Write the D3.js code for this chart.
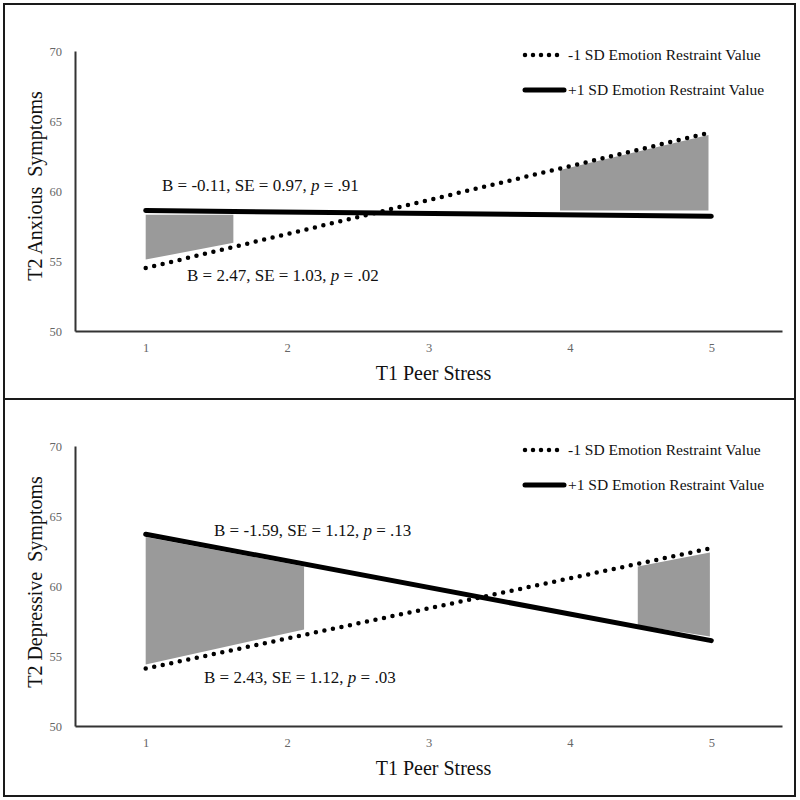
<!DOCTYPE html>
<html><head><meta charset="utf-8">
<script src="https://cdn.jsdelivr.net/npm/d3@7/dist/d3.min.js"></script>
<style>
html,body{margin:0;padding:0;background:#fff;}
svg text{font-family:"Liberation Serif","Times New Roman",serif !important;}
</style></head>
<body><svg id="chart" width="800" height="800"></svg>
<script>
// ---- data ----
const xTicks = [1, 2, 3, 4, 5];
const yTicks = [50, 55, 60, 65, 70];
const xEnds = [1, 5];
const xLabel = "T1 Peer Stress";
const yLabels = ["T2 Anxious  Symptoms", "T2 Depressive  Symptoms"];
const legendLabels = ["-1 SD Emotion Restraint Value", "+1 SD Emotion Restraint Value"];

// -1 SD (dotted) and +1 SD (solid) predicted values at x = 1 and x = 5
const anxLow = [54.5, 64.2];
const anxHigh = [58.6, 58.2];
const depLow = [54.1, 62.7];
const depHigh = [63.7, 56.1];

// shaded regions: [x, upper, lower]
const anxShadeLeft = [[1, 58.3, 55.1], [1.62, 58.3, 56.3]];
const anxShadeRight = [[3.93, 61.5, 58.6], [4.18, 62.1, 58.6], [4.98, 64.0, 58.6]];
const depShadeLeft = [[1, 63.5, 54.4], [2.12, 61.4, 56.9]];
const depShadeRight = [[4.48, 61.4, 57.2], [4.99, 62.4, 56.4]];

// annotations: [B, SE, p]
const anxStatsHigh = ["-0.11", "0.97", ".91"];
const anxStatsLow = ["2.47", "1.03", ".02"];
const depStatsHigh = ["-1.59", "1.12", ".13"];
const depStatsLow = ["2.43", "1.12", ".03"];

// ---- drawing ----
const svg = d3.select("#chart");
const SERIF = "'Liberation Serif', 'Times New Roman', serif";

const panels = [
  {top: 0, yLabel: yLabels[0], titleShift: -5, low: anxLow, high: anxHigh, shades: [anxShadeLeft, anxShadeRight],
   annHigh: {stats: anxStatsHigh, x: 162, y: 191}, annLow: {stats: anxStatsLow, x: 187, y: 281}},
  {top: 395, yLabel: yLabels[1], titleShift: -4, low: depLow, high: depHigh, shades: [depShadeLeft, depShadeRight],
   annHigh: {stats: depStatsHigh, x: 214, y: 141}, annLow: {stats: depStatsLow, x: 204, y: 288}}
];

// frames
svg.append("rect").attr("x", 4).attr("y", 4).attr("width", 791).attr("height", 395)
  .attr("fill", "none").attr("stroke", "#1a1a1a").attr("stroke-width", 2);
svg.append("rect").attr("x", 4).attr("y", 399).attr("width", 791).attr("height", 397)
  .attr("fill", "none").attr("stroke", "#1a1a1a").attr("stroke-width", 2);

panels.forEach(p => {
  const g = svg.append("g").attr("transform", `translate(0,${p.top})`);
  const x = d3.scaleLinear().domain([0.5, 5.5]).range([75, 782]);
  const y = d3.scaleLinear().domain([50, 70]).range([331, 51]);

  // shading
  const area = d3.area().x(d => x(d[0])).y0(d => y(d[2])).y1(d => y(d[1]));
  p.shades.forEach(s => {
    g.append("path").attr("d", area(s)).attr("fill", "#9a9a9a");
  });

  // axes
  const xa = g.append("g").attr("transform", `translate(0,${y(50)})`)
    .call(d3.axisBottom(x).tickValues(xTicks).tickSize(0).tickSizeOuter(0).tickPadding(12).tickFormat(d3.format("d")));
  xa.attr("font-family", SERIF);
  xa.select(".domain").attr("stroke", "#333").attr("stroke-width", 2);
  xa.selectAll("text").attr("font-size", 12.5).attr("fill", "#666").style("font-family", SERIF);

  const ya = g.append("g").attr("transform", `translate(${x(0.5)},0)`)
    .call(d3.axisLeft(y).tickValues(yTicks).tickSize(0).tickSizeOuter(0).tickPadding(13).tickFormat(d3.format("d")));
  ya.attr("font-family", SERIF);
  ya.select(".domain").attr("stroke", "#333").attr("stroke-width", 2);
  ya.selectAll("text").attr("font-size", 12.5).attr("fill", "#666").style("font-family", SERIF);

  // axis titles
  g.append("text").attr("x", (x(0.5) + x(5.5)) / 2 + 5).attr("y", y(50) + 49)
    .attr("text-anchor", "middle").attr("font-size", 20).attr("fill", "#111")
    .style("font-family", SERIF).style("white-space", "pre").text(xLabel);
  g.append("text").attr("transform", `translate(42,${(y(50) + y(70)) / 2 + p.titleShift}) rotate(-90)`)
    .attr("text-anchor", "middle").attr("font-size", 20).attr("fill", "#111")
    .style("font-family", SERIF).style("white-space", "pre").text(p.yLabel);

  // lines
  const line = d3.line().x(d => x(d[0])).y(d => y(d[1]));
  const highPts = xEnds.map((xv, i) => [xv, p.high[i]]);
  const lowPts = xEnds.map((xv, i) => [xv, p.low[i]]);
  g.append("path").attr("d", line(highPts)).attr("fill", "none")
    .attr("stroke", "#000").attr("stroke-width", 5).attr("stroke-linecap", "round");
  g.append("path").attr("d", line(lowPts)).attr("fill", "none")
    .attr("stroke", "#000").attr("stroke-width", 4.5).attr("stroke-linecap", "round")
    .attr("stroke-dasharray", "0 8.7");

  // annotations
  [p.annHigh, p.annLow].forEach(a => {
    const t = g.append("text").attr("x", a.x).attr("y", a.y).attr("font-size", 17).attr("fill", "#111")
      .style("font-family", SERIF);
    t.append("tspan").text(`B = ${a.stats[0]}, SE = ${a.stats[1]}, `);
    t.append("tspan").attr("font-style", "italic").text("p");
    t.append("tspan").text(` = ${a.stats[2]}`);
  });

  // legend
  const lg = g.append("g");
  const ly1 = y(70) + 4, ly2 = y(70) + 39;
  lg.append("line").attr("x1", 525).attr("x2", 563).attr("y1", ly1).attr("y2", ly1)
    .attr("stroke", "#000").attr("stroke-width", 4.5).attr("stroke-linecap", "round")
    .attr("stroke-dasharray", "0 8");
  lg.append("line").attr("x1", 525).attr("x2", 564).attr("y1", ly2).attr("y2", ly2)
    .attr("stroke", "#000").attr("stroke-width", 5).attr("stroke-linecap", "round");
  lg.append("text").attr("x", 568).attr("y", ly1 + 5).attr("font-size", 15.5).attr("fill", "#111")
    .style("font-family", SERIF).text(legendLabels[0]);
  lg.append("text").attr("x", 568).attr("y", ly2 + 5).attr("font-size", 15.5).attr("fill", "#111")
    .style("font-family", SERIF).text(legendLabels[1]);
});
</script></body></html>
